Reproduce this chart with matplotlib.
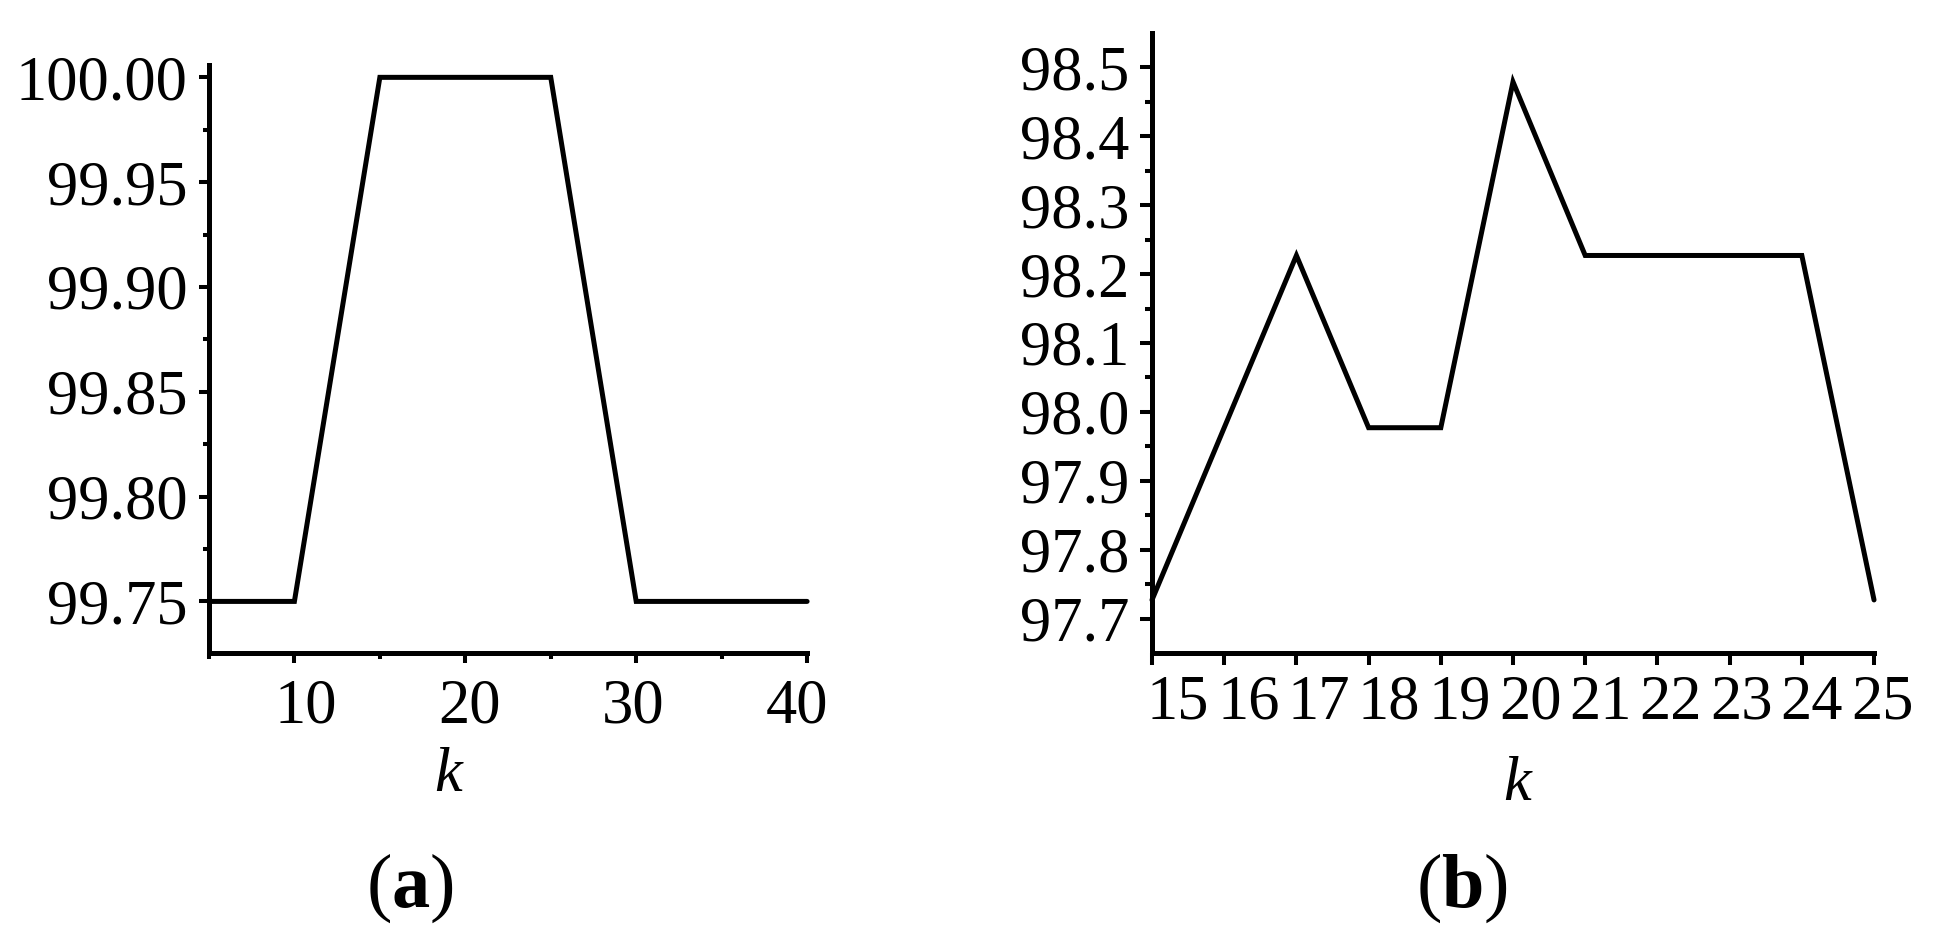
"""Two-panel accuracy vs k line chart (a) and (b)."""

import matplotlib

matplotlib.use("Agg")
import matplotlib.pyplot as plt  # noqa: E402
from matplotlib.ticker import FixedLocator, FormatStrFormatter  # noqa: E402
from matplotlib.transforms import ScaledTranslation  # noqa: E402

# panel (a)
k_a = [5, 10, 15, 20, 25, 30, 35, 40]
acc_a = [99.75, 99.75, 100.00, 100.00, 100.00, 99.75, 99.75, 99.75]

# panel (b)
k_b = [15, 16, 17, 18, 19, 20, 21, 22, 23, 24, 25]
acc_b = [97.727, 97.977, 98.227, 97.977, 97.977, 98.479, 98.227, 98.227, 98.227, 98.227, 97.727]

xticks_a = [10, 20, 30, 40]
xminor_a = [5, 15, 25, 35]
yticks_a = [99.75, 99.80, 99.85, 99.90, 99.95, 100.00]
yminor_a = [99.775, 99.825, 99.875, 99.925, 99.975]

xticks_b = list(range(15, 26))
yticks_b = [97.7, 97.8, 97.9, 98.0, 98.1, 98.2, 98.3, 98.4, 98.5]
yminor_b = [97.75, 97.85, 97.95, 98.05, 98.15, 98.25, 98.35, 98.45]

LW = 3.6
FS = 45


def _apply_style() -> None:
    plt.rcParams.update(
        {
            "figure.dpi": 100,
            "font.family": ["Liberation Serif", "DejaVu Serif"],
            "font.size": FS,
            "mathtext.fontset": "custom",
            "mathtext.rm": "Liberation Serif",
            "mathtext.bf": "Liberation Serif:bold",
            "axes.linewidth": LW,
            "figure.facecolor": "white",
            "axes.facecolor": "white",
        }
    )


def _style_axes(ax, major_len, minor_len, xpad) -> None:
    for side in ("top", "right"):
        ax.spines[side].set_visible(False)
    ax.tick_params(which="major", direction="out", length=major_len, width=2.9,
                   labelsize=FS, color="black")
    ax.tick_params(which="minor", direction="out", length=minor_len, width=2.9, color="black")
    ax.tick_params(axis="y", which="major", pad=8)
    ax.tick_params(axis="x", which="major", pad=xpad)


def _shift_xlabels(ax, fig, shifts_px) -> None:
    # the original's tick labels sit slightly off their ticks
    for lbl, dx in zip(ax.get_xticklabels(), shifts_px):
        lbl.set_transform(lbl.get_transform() + ScaledTranslation(dx / 100, 0, fig.dpi_scale_trans))


_apply_style()
fig = plt.figure(figsize=(19.42, 9.39))

# (a)
ax1 = fig.add_axes([0.1076, 0.3046, 0.4156 - 0.1076, 0.9308 - 0.3046])
ax1.plot(k_a, acc_a, color="black", linewidth=LW, solid_joinstyle="miter",
         solid_capstyle="round", clip_on=False)
ax1.set_xlim(5, 40)
ax1.set_ylim(99.7254, 100.0059)
ax1.xaxis.set_major_locator(FixedLocator(xticks_a))
ax1.xaxis.set_minor_locator(FixedLocator(xminor_a))
ax1.yaxis.set_major_locator(FixedLocator(yticks_a))
ax1.yaxis.set_minor_locator(FixedLocator(yminor_a))
ax1.yaxis.set_major_formatter(FormatStrFormatter("%.2f"))
_style_axes(ax1, 7.2, 4.3, 11)
_shift_xlabels(ax1, fig, [11, 4, -3, -10])

# (b)
ax2 = fig.add_axes([0.5932, 0.3046, 0.9650 - 0.5932, 0.9649 - 0.3046])
ax2.plot(k_b, acc_b, color="black", linewidth=LW, solid_joinstyle="miter",
         solid_capstyle="round", clip_on=False)
ax2.set_xlim(15, 25)
ax2.set_ylim(97.65, 98.55)
ax2.xaxis.set_major_locator(FixedLocator(xticks_b))
ax2.yaxis.set_major_locator(FixedLocator(yticks_b))
ax2.yaxis.set_minor_locator(FixedLocator(yminor_b))
ax2.yaxis.set_major_formatter(FormatStrFormatter("%.1f"))
_style_axes(ax2, 8.5, 5.0, 7)
_shift_xlabels(ax2, fig, [26 - 1.8 * i for i in range(len(xticks_b))])

# axis labels and panel captions
fig.text(448 / 1942, 1 - 791 / 939, "k", style="italic", ha="center", va="baseline", fontsize=FS)
fig.text(1517 / 1942, 1 - 800 / 939, "k", style="italic", ha="center", va="baseline", fontsize=FS)
fig.text(410 / 1942, 1 - 888 / 939, r"($\mathbf{a}$)", ha="center", va="center", fontsize=55)
fig.text(1462 / 1942, 1 - 888 / 939, r"($\mathbf{b}$)", ha="center", va="center", fontsize=55)

fig.savefig("out.png", dpi=100)
